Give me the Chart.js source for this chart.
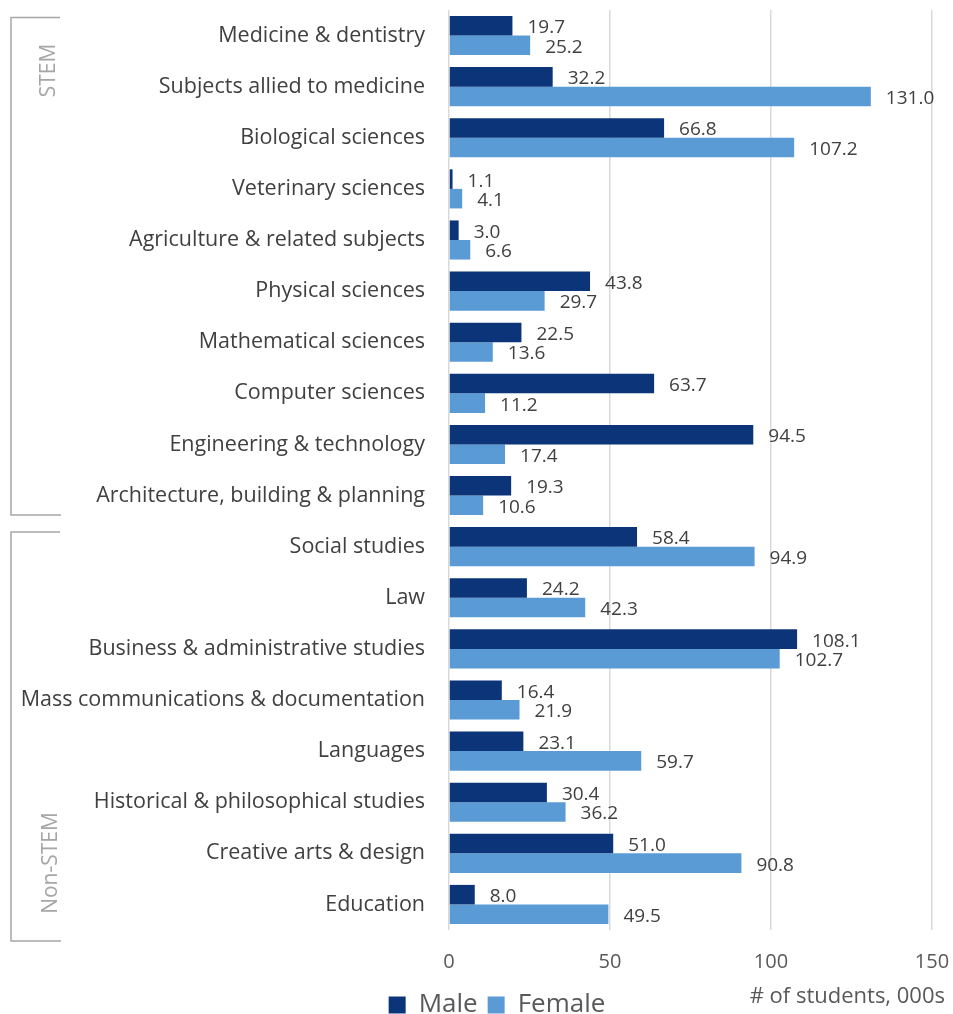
<!DOCTYPE html>
<html>
<head>
<meta charset="utf-8">
<script src="https://cdn.jsdelivr.net/npm/chart.js@4/dist/chart.umd.min.js"></script>
<style>
  html, body { margin: 0; padding: 0; background: #ffffff; }
  #wrap { width: 953px; height: 1014px; position: relative; }
</style>
</head>
<body>
<div id="wrap"><canvas id="c"></canvas></div>
<script>
// Students by subject area and sex (thousands)
const categories = [
  'Medicine & dentistry',
  'Subjects allied to medicine',
  'Biological sciences',
  'Veterinary sciences',
  'Agriculture & related subjects',
  'Physical sciences',
  'Mathematical sciences',
  'Computer sciences',
  'Engineering & technology',
  'Architecture, building & planning',
  'Social studies',
  'Law',
  'Business & administrative studies',
  'Mass communications & documentation',
  'Languages',
  'Historical & philosophical studies',
  'Creative arts & design',
  'Education'
];
const maleValues = [19.7, 32.2, 66.8, 1.1, 3.0, 43.8, 22.5, 63.7, 94.5, 19.3,
                    58.4, 24.2, 108.1, 16.4, 23.1, 30.4, 51.0, 8.0];
const femaleValues = [25.2, 131.0, 107.2, 4.1, 6.6, 29.7, 13.6, 11.2, 17.4, 10.6,
                      94.9, 42.3, 102.7, 21.9, 59.7, 36.2, 90.8, 49.5];
const seriesNames = ['Male', 'Female'];
const xTicks = [0, 50, 100, 150];
const groups = [
  { name: 'STEM', first: 0, last: 9 },
  { name: 'Non-STEM', first: 10, last: 17 }
];
const axisTitle = '# of students, 000s';

const FONT = "'Open Sans', 'DejaVu Sans', sans-serif";
const MALE = '#0b3578';
const FEMALE = '#5b9bd5';
const PAD_LEFT = 62;

// Let the long category names use the full width to the left of the axis
const wideCategoryLabels = {
  id: 'wideCategoryLabels',
  afterLayout(chart) {
    chart.scales.y.left = 0;
  }
};

// Value labels at the end of each bar
const valueLabels = {
  id: 'valueLabels',
  afterDatasetsDraw(chart) {
    const ctx = chart.ctx;
    ctx.save();
    ctx.font = '19px ' + FONT;
    ctx.fillStyle = '#404040';
    ctx.textAlign = 'left';
    ctx.textBaseline = 'middle';
    chart.data.datasets.forEach((ds, di) => {
      const meta = chart.getDatasetMeta(di);
      meta.data.forEach((bar, i) => {
        ctx.fillText(ds.data[i].toFixed(1), bar.x + 15, bar.y + 2);
      });
    });
    ctx.restore();
  }
};

// Group brackets on the left and the axis caption
const groupBrackets = {
  id: 'groupBrackets',
  afterDraw(chart) {
    const ctx = chart.ctx;
    const ys = chart.scales.y;
    const step = ys.getPixelForValue(1) - ys.getPixelForValue(0);
    const half = step / 2;
    ctx.save();
    ctx.strokeStyle = '#a6a6a6';
    ctx.lineWidth = 1.5;
    ctx.fillStyle = '#a6a6a6';
    ctx.font = '21px ' + FONT;
    ctx.textAlign = 'center';
    ctx.textBaseline = 'middle';
    groups.forEach((g, gi) => {
      const top = ys.getPixelForValue(g.first) - half + (gi === 0 ? 7.5 : 11);
      const bottom = ys.getPixelForValue(g.last) + half + (gi === 0 ? -6 : 11);
      ctx.beginPath();
      ctx.moveTo(60, top);
      ctx.lineTo(11, top);
      ctx.lineTo(11, bottom);
      ctx.lineTo(61, bottom);
      ctx.stroke();
      const ty = gi === 0 ? top + 53 : bottom - 78;
      ctx.save();
      ctx.translate(gi === 0 ? 49 : 51, ty);
      ctx.rotate(-Math.PI / 2);
      ctx.fillText(g.name, 0, 0);
      ctx.restore();
    });
    ctx.fillStyle = '#595959';
    ctx.font = '22px ' + FONT;
    ctx.textAlign = 'right';
    ctx.fillText(axisTitle, 945, 997);
    ctx.restore();
  }
};

new Chart(document.getElementById('c'), {
  type: 'bar',
  data: {
    labels: categories,
    datasets: [
      { label: seriesNames[0], data: maleValues, backgroundColor: MALE,
        categoryPercentage: 0.765, barPercentage: 1.0 },
      { label: seriesNames[1], data: femaleValues, backgroundColor: FEMALE,
        categoryPercentage: 0.765, barPercentage: 1.0 }
    ]
  },
  options: {
    indexAxis: 'y',
    responsive: true,
    maintainAspectRatio: false,
    animation: false,
    layout: { padding: { top: 10, right: 21, bottom: -14, left: PAD_LEFT } },
    plugins: {
      legend: {
        position: 'bottom',
        labels: {
          font: { family: FONT, size: 26 },
          color: '#595959',
          boxWidth: 17,
          boxHeight: 17,
          padding: 10
        }
      },
      tooltip: { enabled: false }
    },
    scales: {
      x: {
        min: 0,
        max: 150,
        afterBuildTicks(scale) {
          scale.ticks = xTicks.map(v => ({ value: v }));
        },
        afterFit(scale) {
          scale.height = 52;
          scale.paddingLeft = 0;
          scale.paddingRight = 0;
          scale.paddingTop = 0;
          scale.paddingBottom = 0;
        },
        grid: { color: '#d9d9d9', lineWidth: 1.5, drawTicks: false },
        border: { display: false },
        ticks: {
          font: { family: FONT, size: 20 },
          color: '#595959',
          padding: 20
        }
      },
      y: {
        afterFit(scale) {
          scale.width = 449 - PAD_LEFT;
          scale.paddingTop = 0;
          scale.paddingBottom = 0;
          scale.paddingLeft = 0;
          scale.paddingRight = 0;
        },
        grid: { display: false, drawTicks: false },
        border: { display: false },
        ticks: {
          font: { family: FONT, size: 21.5 },
          color: '#404040',
          padding: 24,
          autoSkip: false
        }
      }
    }
  },
  plugins: [wideCategoryLabels, valueLabels, groupBrackets]
});
</script>
</body>
</html>
